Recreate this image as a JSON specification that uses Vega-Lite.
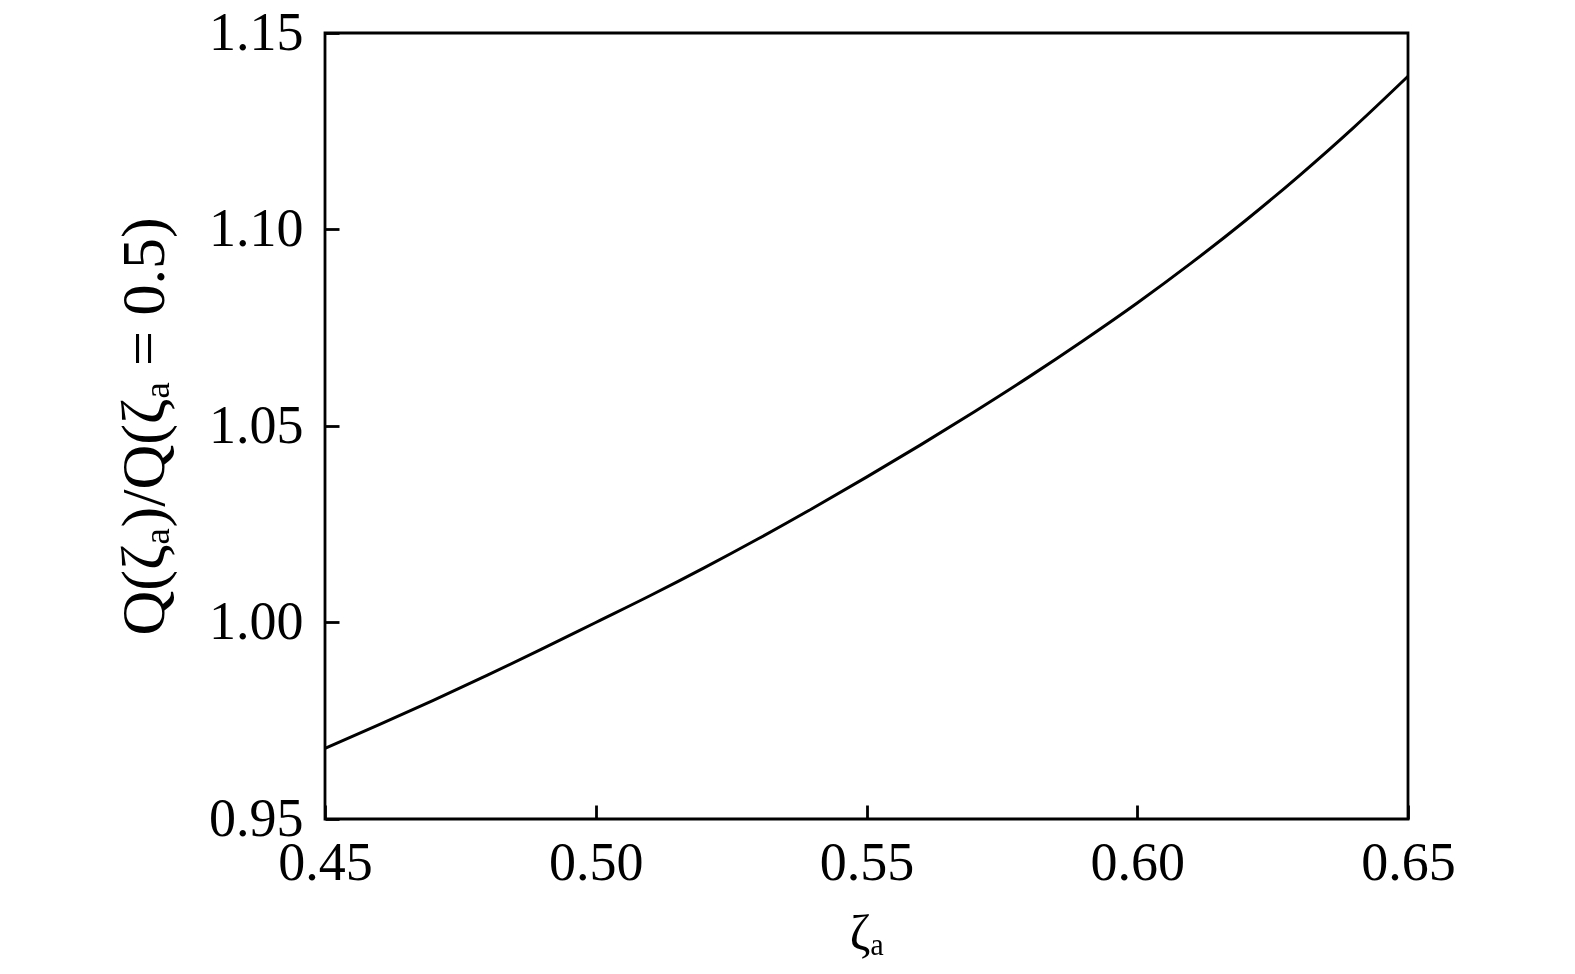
{
  "$schema": "https://vega.github.io/schema/vega-lite/v6.json",
  "autosize": "none",
  "width": 1083,
  "height": 786,
  "padding": {"left": 325, "top": 33, "right": 167, "bottom": 155},
  "background": "white",
  "config": {
    "view": {"stroke": "black", "strokeWidth": 2.8},
    "font": "Liberation Serif",
    "axis": {
      "domain": false,
      "grid": false,
      "ticks": true,
      "tickColor": "black",
      "tickWidth": 2.8,
      "tickSize": -14,
      "labelFont": "Liberation Serif",
      "labelFontSize": 54,
      "labelColor": "black",
      "titleFont": "Liberation Serif",
      "titleFontWeight": "normal",
      "titleColor": "black"
    }
  },
  "data": {
    "values": [
      {"zeta": 0.45, "q": 0.968},
      {"zeta": 0.46, "q": 0.974},
      {"zeta": 0.47, "q": 0.9802},
      {"zeta": 0.48, "q": 0.9866},
      {"zeta": 0.49, "q": 0.9932},
      {"zeta": 0.50, "q": 1.0},
      {"zeta": 0.51, "q": 1.0068},
      {"zeta": 0.52, "q": 1.0139},
      {"zeta": 0.53, "q": 1.0213},
      {"zeta": 0.54, "q": 1.029},
      {"zeta": 0.55, "q": 1.037},
      {"zeta": 0.56, "q": 1.0452},
      {"zeta": 0.57, "q": 1.0537},
      {"zeta": 0.58, "q": 1.0625},
      {"zeta": 0.59, "q": 1.0717},
      {"zeta": 0.60, "q": 1.0813},
      {"zeta": 0.61, "q": 1.0915},
      {"zeta": 0.62, "q": 1.1023},
      {"zeta": 0.63, "q": 1.1138},
      {"zeta": 0.64, "q": 1.126},
      {"zeta": 0.65, "q": 1.139}
    ]
  },
  "mark": {"type": "line", "color": "black", "strokeWidth": 3, "interpolate": "monotone"},
  "encoding": {
    "x": {
      "field": "zeta",
      "type": "quantitative",
      "scale": {"domain": [0.45, 0.65], "nice": false, "zero": false},
      "axis": {
        "values": [0.45, 0.5, 0.55, 0.6, 0.65],
        "format": ".2f",
        "labelPadding": 31,
        "labelFlush": false,
        "title": "ζₐ",
        "titleFontSize": 50,
        "titlePadding": 19
      }
    },
    "y": {
      "field": "q",
      "type": "quantitative",
      "scale": {"domain": [0.95, 1.15], "nice": false, "zero": false},
      "axis": {
        "values": [0.95, 1.0, 1.05, 1.1, 1.15],
        "format": ".2f",
        "labelPadding": 36,
        "labelFlush": false,
        "title": "Q(ζₐ)/Q(ζₐ = 0.5)",
        "titleFontSize": 62,
        "titlePadding": 32
      }
    }
  }
}
